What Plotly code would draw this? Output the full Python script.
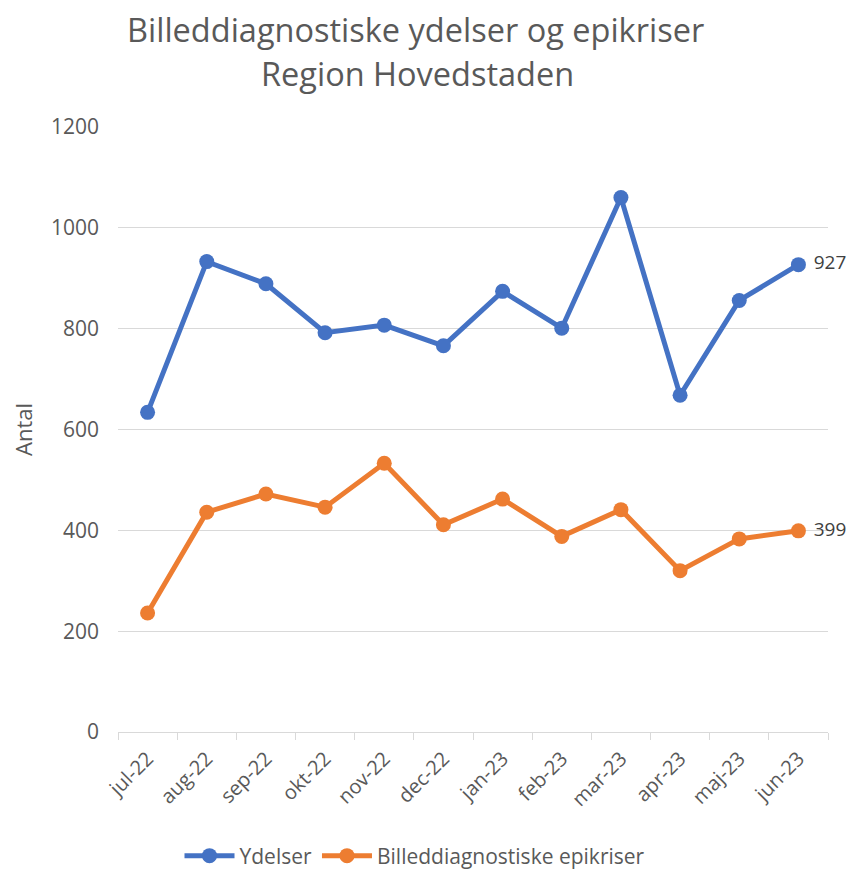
import plotly.graph_objects as go

months = ["jul-22", "aug-22", "sep-22", "okt-22", "nov-22", "dec-22",
          "jan-23", "feb-23", "mar-23", "apr-23", "maj-23", "jun-23"]
ydelser = [634, 933, 889, 792, 807, 766, 874, 801, 1060, 668, 856, 927]
epikriser = [236, 436, 472, 446, 533, 411, 462, 388, 441, 320, 383, 399]
title_lines = ["Billeddiagnostiske ydelser og epikriser", "Region Hovedstaden"]

blue = "#4472C4"
orange = "#ED7D31"
grey = "#595959"
font = "Open Sans"

W, H = 852, 870
L, R, T, B = 118, 24, 127, 138
pw, ph = W - L - R, H - T - B

def last_label(vals):
    return [""] * (len(vals) - 1) + [" " + str(vals[-1])]

def px_x(x):
    return (x - L) / pw

def px_y(y):
    return (H - B - y) / ph

fig = go.Figure()
fig.add_trace(go.Scatter(
    x=months, y=ydelser, name="Ydelser", mode="lines+markers+text",
    line=dict(color=blue, width=5), marker=dict(color=blue, size=15),
    text=last_label(ydelser), textposition="middle right",
    textfont=dict(size=19, color="#404040", family=font),
    cliponaxis=False,
))
fig.add_trace(go.Scatter(
    x=months, y=epikriser, name="Billeddiagnostiske epikriser", mode="lines+markers+text",
    line=dict(color=orange, width=5), marker=dict(color=orange, size=15),
    text=last_label(epikriser), textposition="middle right",
    textfont=dict(size=19, color="#404040", family=font),
    cliponaxis=False,
))

fig.update_layout(
    width=W, height=H,
    paper_bgcolor="white", plot_bgcolor="white",
    margin=dict(l=L, r=R, t=T, b=B, autoexpand=False),
    font=dict(family=font, color=grey, size=18),
    showlegend=True,
    legend=dict(orientation="h", x=px_x(415), xanchor="center", y=px_y(856), yanchor="middle",
                font=dict(size=21, color=grey, family=font), itemwidth=50),
    annotations=[
        dict(text=title_lines[0], x=px_x(415), y=px_y(29), xref="paper", yref="paper",
             xanchor="center", yanchor="middle",
             showarrow=False, font=dict(size=32.5, color=grey, family=font)),
        dict(text=title_lines[1], x=px_x(417), y=px_y(74), xref="paper", yref="paper",
             xanchor="center", yanchor="middle",
             showarrow=False, font=dict(size=32.5, color=grey, family=font)),
    ],
)

fig.update_xaxes(
    type="category", range=[-0.5, len(months) - 0.5],
    showgrid=False, showline=True, linecolor="#d9d9d9", linewidth=1,
    ticks="outside", tickson="boundaries", ticklen=7, tickcolor="#d9d9d9",
    tickangle=-45, tickfont=dict(size=20, color=grey), automargin=False,
    ticklabelstandoff=6,
)
fig.update_yaxes(
    range=[0, 1200], dtick=200, showgrid=True, gridcolor="#d9d9d9", gridwidth=1,
    zeroline=False, showline=False, ticks="", ticklabelstandoff=18,
    tickfont=dict(size=21, color=grey), automargin=False,
    title=dict(text="Antal", font=dict(size=22, color=grey), standoff=12),
)

fig.write_html("out.html", config={"displayModeBar": False})

# remove the default 8px page margin so the figure sits at the window's corner
with open("out.html", "r", encoding="utf-8") as f:
    html = f.read()
html = html.replace("<head>", "<head><style>html,body{margin:0;padding:0;}</style>", 1)
with open("out.html", "w", encoding="utf-8") as f:
    f.write(html)
